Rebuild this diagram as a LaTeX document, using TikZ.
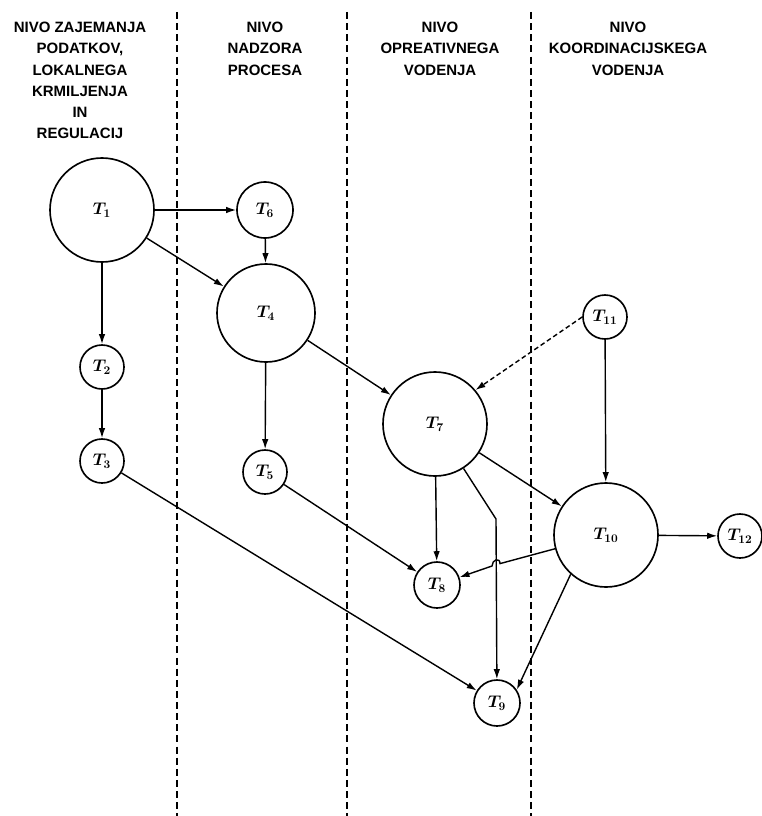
\documentclass[tikz,border=0pt]{standalone}
\usepackage{fontspec}
\usepackage{bm}
\usetikzlibrary{arrows.meta}
\newfontfamily\headfont{Liberation Sans}
\begin{document}
\begin{tikzpicture}[x=0.03cm,y=-0.03cm,
    task/.style={draw,circle,line width=1.4pt,inner sep=0pt,font=\fontsize{14}{16}\selectfont},
    level/.style={align=center,anchor=north,inner sep=0pt,font=\headfont\bfseries\fontsize{12.8}{18.1}\selectfont},
    flow/.style={-{Latex[length=8.5pt,width=5.5pt]},line width=1.2pt}]
  \useasboundingbox(0,0)rectangle(762,816);
  % borders between the levels
  \foreach \x in {177,347,531}
    \draw[dashed,line width=1.1pt,dash pattern=on 6pt off 3.5pt](\x,12)--(\x,816);
  \node[level]at(80,22)(lv1){NIVO ZAJEMANJA\\PODATKOV,\\LOKALNEGA\\KRMILJENJA\\IN\\REGULACIJ};
  \node[level]at(265,22)(lv2){NIVO\\NADZORA\\PROCESA};
  \node[level]at(440,22)(lv3){NIVO\\OPREATIVNEGA\\VODENJA};
  \node[level]at(628,22)(lv4){NIVO\\KOORDINACIJSKEGA\\VODENJA};
  % tasks
  \node[task,minimum size=3.12cm]at(102,210)(t1){$\bm{T_{1}}$};
  \node[task,minimum size=1.32cm]at(102,367)(t2){$\bm{T_{2}}$};
  \node[task,minimum size=1.32cm]at(102,461)(t3){$\bm{T_{3}}$};
  \node[task,minimum size=1.68cm]at(265,210)(t6){$\bm{T_{6}}$};
  \node[task,minimum size=2.94cm]at(266,313)(t4){$\bm{T_{4}}$};
  \node[task,minimum size=1.32cm]at(265,472)(t5){$\bm{T_{5}}$};
  \node[task,minimum size=3.12cm]at(435,424)(t7){$\bm{T_{7}}$};
  \node[task,minimum size=1.38cm]at(437,585)(t8){$\bm{T_{8}}$};
  \node[task,minimum size=1.38cm]at(497,703)(t9){$\bm{T_{9}}$};
  \node[task,minimum size=1.32cm]at(605,317)(t11){$\bm{T_{11}}$};
  \node[task,minimum size=3.12cm]at(606,535)(t10){$\bm{T_{10}}$};
  \node[task,minimum size=1.32cm]at(740,536)(t12){$\bm{T_{12}}$};
  \coordinate(bend79)at(496,519);
  \coordinate(hopa)at(500,563.6);
  \coordinate(hopb)at(492,566);
  % connections
  \draw[flow](t1)--(t6);
  \draw[flow](t6)--(t4);
  \draw[flow](t1)--(t4);
  \draw[flow](t1)--(t2);
  \draw[flow](t2)--(t3);
  \draw[flow](t4)--(t5);
  \draw[flow](t5)--(t8);
  \draw[flow](t3)--(t9);
  \draw[flow](t4)--(t7);
  \draw[flow,dashed,dash pattern=on 4pt off 2.5pt](t11.west)--(t7.40);
  \draw[flow](t11)--(t10);
  \draw[flow](t7)--(t8);
  \draw[flow](t7)--(bend79)--(t9);
  \draw[flow](t7)--(t10);
  \draw[flow](t10)--(hopa)..controls(500,557)and(492,559.5)..(hopb)--(t8);
  \draw[flow](t10.228)--(t9.34);
  \draw[flow](t10)--(t12);
\end{tikzpicture}
\end{document}
